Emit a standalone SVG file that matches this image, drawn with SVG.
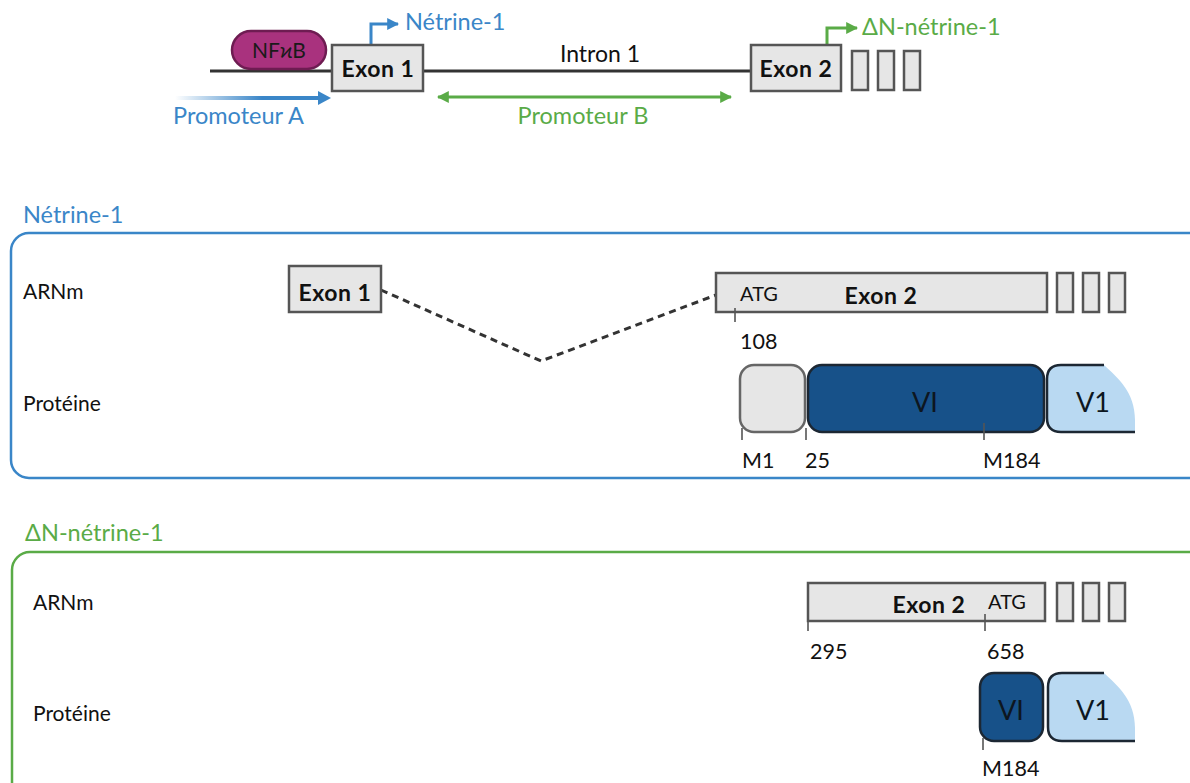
<svg xmlns="http://www.w3.org/2000/svg" width="1190" height="783" viewBox="0 0 1190 783">
<style>
text{font-family:Lato,"Liberation Sans",sans-serif;}
.lbl{font-size:21px;fill:#111;}
.intron{font-size:23px;fill:#111;}
.bold{font-weight:bold;font-size:23px;fill:#111;letter-spacing:0.5px;}
.num{font-size:21.5px;fill:#111;}
.atg{font-size:20px;fill:#111;}
.blue{fill:#3a86c8;font-size:23.5px;}
.green{fill:#5aab47;font-size:23.5px;}
.exon{fill:#e6e6e6;stroke:#555;stroke-width:2.5;}
.tick{stroke:#555;stroke-width:1.6;fill:none;}
.vi{fill:#175189;stroke:#1c2733;stroke-width:2.5;}
.v1{fill:#b9d9f2;}
.v1s{fill:none;stroke:#1c2733;stroke-width:2.5;}
.dom{font-size:27px;fill:#0d1620;}
</style>
<defs>
<marker id="ab" viewBox="0 0 10 10" refX="9" refY="5" markerWidth="4" markerHeight="4" orient="auto-start-reverse" markerUnits="strokeWidth"><path d="M0,0 L10,5 L0,10 z" fill="#3a86c8"/></marker>
<marker id="ag" viewBox="0 0 10 10" refX="9" refY="5" markerWidth="4" markerHeight="4" orient="auto-start-reverse" markerUnits="strokeWidth"><path d="M0,0 L10,5 L0,10 z" fill="#5aab47"/></marker>
<linearGradient id="gA" x1="0" x2="1" y1="0" y2="0"><stop offset="0" stop-color="#3a86c8" stop-opacity="0"/><stop offset="0.6" stop-color="#3a86c8"/></linearGradient>
</defs>

<!-- connectors -->
<g id="connectors">
<line x1="210" y1="71" x2="751" y2="71" stroke="#333" stroke-width="3"/>
<path d="M371,45 V24 H398" fill="none" stroke="#3a86c8" stroke-width="3" marker-end="url(#ab)"/>
<path d="M827,45 V28 H857" fill="none" stroke="#5aab47" stroke-width="3" marker-end="url(#ag)"/>
<rect x="175" y="96" width="145" height="4" fill="url(#gA)"/>
<path d="M318,91 L331,98 L318,105 z" fill="#3a86c8"/>
<line x1="438" y1="97" x2="731" y2="97" stroke="#5aab47" stroke-width="3" marker-start="url(#ag)" marker-end="url(#ag)"/>
<polyline points="381,290 541,361 716,295" fill="none" stroke="#333" stroke-width="3" stroke-dasharray="7,5"/>
</g>

<!-- top gene -->
<g id="nfkb">
<rect x="232" y="31" width="94" height="38" rx="19" fill="#a9327e" stroke="#6e1c52" stroke-width="2.5"/>
<text x="279" y="58" text-anchor="middle" font-size="21" fill="#1a1a1a">NFϰB</text>
</g>
<g id="gene-exon1">
<rect x="332" y="45" width="91" height="46" class="exon"/>
<text x="378" y="77" text-anchor="middle" class="bold">Exon 1</text>
</g>
<g id="gene-exon2">
<rect x="751" y="45" width="90" height="46" class="exon"/>
<text x="796" y="77" text-anchor="middle" class="bold">Exon 2</text>
</g>
<g id="gene-small">
<rect x="852" y="51" width="16" height="39" class="exon"/>
<rect x="878" y="51" width="16" height="39" class="exon"/>
<rect x="904" y="51" width="16" height="39" class="exon"/>
</g>
<text x="405" y="30" class="blue">Nétrine-1</text>
<text x="862" y="35" class="green">ΔN-nétrine-1</text>
<text x="600" y="62" text-anchor="middle" class="intron">Intron 1</text>
<text x="173" y="124" class="blue">Promoteur A</text>
<text x="583" y="124" text-anchor="middle" class="green">Promoteur B</text>

<!-- section 1 -->
<g id="netrine1">
<text x="23" y="223" class="blue">Nétrine-1</text>
<rect x="11" y="233" width="1200" height="245" rx="18" fill="none" stroke="#3a86c8" stroke-width="2.5"/>
<text x="23" y="299" class="lbl">ARNm</text>
<text x="23" y="411" class="lbl">Protéine</text>
<g id="n1-exon1">
<rect x="289" y="266" width="92" height="46" class="exon"/>
<text x="335" y="301" text-anchor="middle" class="bold">Exon 1</text>
</g>
<g id="n1-exon2">
<rect x="716" y="273" width="331" height="39" class="exon"/>
<text x="740" y="301" class="atg">ATG</text>
<text x="881" y="304" text-anchor="middle" class="bold">Exon 2</text>
<line x1="735" y1="308" x2="735" y2="322" class="tick"/>
<text x="740" y="349" class="num">108</text>
</g>
<g id="n1-small">
<rect x="1057" y="273" width="16" height="39" class="exon"/>
<rect x="1083" y="273" width="16" height="39" class="exon"/>
<rect x="1109" y="273" width="16" height="39" class="exon"/>
</g>
<g id="n1-protein">
<rect x="740" y="365" width="65" height="67" rx="14" fill="#e6e6e6" stroke="#666" stroke-width="2.5"/>
<rect x="808" y="365" width="236" height="67" rx="14" class="vi"/>
<text x="925" y="412" text-anchor="middle" class="dom">VI</text>
<path d="M1061,365 H1104 C1118,378 1135,392 1135,420 V432 H1061 Q1047,432 1047,418 V379 Q1047,365 1061,365 z" class="v1"/>
<path d="M1104,365 H1061 Q1047,365 1047,379 V418 Q1047,432 1061,432 H1135" class="v1s"/>
<text x="1093" y="412" text-anchor="middle" class="dom">V1</text>
<line x1="742" y1="428" x2="742" y2="440" class="tick"/>
<line x1="806" y1="428" x2="806" y2="440" class="tick"/>
<line x1="984" y1="423" x2="984" y2="440" class="tick"/>
<text x="742" y="468" class="num">M1</text>
<text x="805" y="468" class="num">25</text>
<text x="983" y="468" class="num">M184</text>
</g>
</g>

<!-- section 2 -->
<g id="dn-netrine1">
<text x="25" y="541" class="green">ΔN-nétrine-1</text>
<rect x="12" y="552" width="1200" height="260" rx="18" fill="none" stroke="#5aab47" stroke-width="2.5"/>
<text x="33" y="610" class="lbl">ARNm</text>
<text x="33" y="721" class="lbl">Protéine</text>
<g id="dn-exon2">
<rect x="808" y="583" width="237" height="38" class="exon"/>
<text x="929" y="613" text-anchor="middle" class="bold">Exon 2</text>
<text x="988" y="609" class="atg">ATG</text>
<line x1="808" y1="618" x2="808" y2="631" class="tick"/>
<line x1="985" y1="614" x2="985" y2="631" class="tick"/>
<text x="810" y="659" class="num">295</text>
<text x="987" y="659" class="num">658</text>
</g>
<g id="dn-small">
<rect x="1057" y="583" width="16" height="38" class="exon"/>
<rect x="1083" y="583" width="16" height="38" class="exon"/>
<rect x="1109" y="583" width="16" height="38" class="exon"/>
</g>
<g id="dn-protein">
<rect x="980" y="673" width="63" height="68" rx="14" class="vi"/>
<text x="1011" y="720" text-anchor="middle" class="dom">VI</text>
<path d="M1062,673 H1104 C1118,686 1135,700 1135,728 V741 H1062 Q1048,741 1048,727 V687 Q1048,673 1062,673 z" class="v1"/>
<path d="M1104,673 H1062 Q1048,673 1048,687 V727 Q1048,741 1062,741 H1135" class="v1s"/>
<text x="1093" y="720" text-anchor="middle" class="dom">V1</text>
<line x1="983" y1="738" x2="983" y2="750" class="tick"/>
<text x="982" y="776" class="num">M184</text>
</g>
</g>
</svg>
